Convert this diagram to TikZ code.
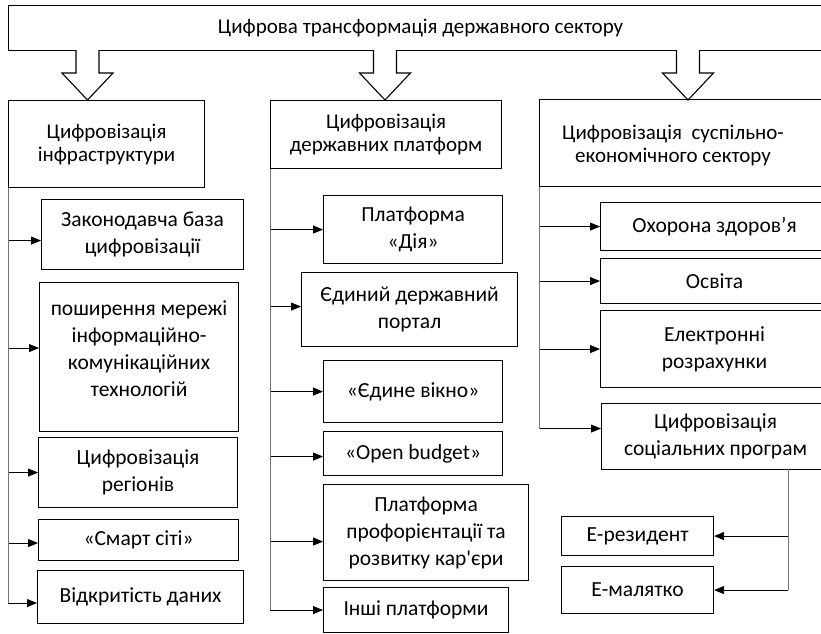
\documentclass[tikz,border=0pt]{standalone}
\usepackage{fontspec}
\setmainfont{Carlito}
\usetikzlibrary{arrows.meta}

\begin{document}
\begin{tikzpicture}[x=1pt,y=-1pt,
    box/.style={draw,line width=1.1pt,anchor=north west,align=center,inner sep=0pt,
      font=\fontsize{21.5}{27}\selectfont},
    head/.style={box,font=\fontsize{21}{23}\selectfont},
    txt/.style={align=center,inner sep=0pt},
    arr/.style={-{Triangle[length=10pt,width=8pt]},line width=0.8pt},
    trunk/.style={draw=black!55,line width=0.9pt},
    bigarr/.style={draw,line width=1.1pt,fill=white,line join=miter}]
  \useasboundingbox (0,0) rectangle (821,633);

  % title and the three directions
  \node[head,minimum width=824,minimum height=45] (title) at (8,5) {Цифрова трансформація державного сектору};
  \node[head,minimum width=196,minimum height=87] (infra) at (8,100) {Цифровізація\\інфраструктури};
  \node[head,minimum width=231,minimum height=68] (platf) at (270,100) {Цифровізація\\державних платформ};
  \node[head,minimum width=290,minimum height=87] (econ) at (539,99) {};
  \node[txt,font=\fontsize{21}{23}\selectfont] (econtxt) at (673,145) {Цифровізація\ \ суспільно-\\економічного сектору};

  \foreach \x in {87.5,385,688}
    \draw[bigarr] (\x-11.5,50) -- ++(0,23) -- ++(-14,0) -- (\x,100) -- (\x+25.5,73) -- ++(-14,0) -- ++(0,-23);

  % infrastructure
  \node[box,minimum width=202,minimum height=70] (legal) at (41,199) {Законодавча база\\цифровізації};
  \node[box,minimum width=199,minimum height=149] (ict) at (39,282) {};
  \node[txt,font=\fontsize{21.5}{27}\selectfont,yshift=8pt] (icttxt) at (ict.center) {поширення мережі\\інформаційно-\\комунікаційних\\технологій};
  \node[box,minimum width=199,minimum height=70] (regions) at (38,437) {Цифровізація\\регіонів};
  \node[box,minimum width=200,minimum height=41] (smart) at (38,519) {«Смарт сіті»};
  \node[box,minimum width=206,minimum height=53] (opendata) at (37,570) {Відкритість даних};

  % platforms
  \node[box,minimum width=179,minimum height=68] (diia) at (323,195) {Платформа\\«Дія»};
  \node[box,minimum width=216,minimum height=74] (portal) at (301,272) {Єдиний державний\\портал};
  \node[box,minimum width=179,minimum height=62] (window) at (323,360) {«Єдине вікно»};
  \node[box,minimum width=179,minimum height=44] (budget) at (323,431) {«Open budget»};
  \node[box,minimum width=205,minimum height=96] (career) at (323,484) {Платформа\\профорієнтації та\\розвитку кар{\addfontfeatures{Ligatures=TeXOff}'}єри};
  \node[box,minimum width=185,minimum height=45] (other) at (323,587) {Інші платформи};

  % socio-economic sector
  \node[box,minimum width=228,minimum height=48] (health) at (600,202) {Охорона здоров’я};
  \node[box,minimum width=228,minimum height=45] (edu) at (600,258) {Освіта};
  \node[box,minimum width=228,minimum height=77] (pay) at (600,310) {Електронні\\розрахунки};
  \node[box,minimum width=228,minimum height=66] (social) at (601,403) {Цифровізація\\соціальних програм};
  \node[box,minimum width=152,minimum height=39] (eres) at (561,516) {Е-резидент};
  \node[box,minimum width=152,minimum height=47] (ebaby) at (561,566) {Е-малятко};

  % connectors
  \foreach \n/\d in {legal/-6,ict/9,regions/0,smart/-3,opendata/-6}{
    \coordinate (\n-in) at ([yshift=\d pt]\n.west);
    \draw[arr] (infra.south west |- \n-in) -- (\n-in);}
  \draw[trunk] (infra.south west) -- (infra.south west |- opendata-in);
  \foreach \n/\d in {diia/0,portal/3,window/0,budget/-3,career/-9,other/0}{
    \coordinate (\n-in) at ([yshift=\d pt]\n.west);
    \draw[arr] (platf.south west |- \n-in) -- (\n-in);}
  \draw[trunk] (platf.south west) -- (platf.south west |- other-in);
  \foreach \n/\d in {health/0,edu/0,pay/0,social/8}{
    \coordinate (\n-in) at ([yshift=\d pt]\n.west);
    \draw[arr] (econ.south west |- \n-in) -- (\n-in);}
  \draw[trunk] (econ.south west) -- (econ.south west |- social-in);
  \coordinate (drop) at (788,469);
  \draw[trunk] (drop) -- (drop |- ebaby.east);
  \foreach \n in {eres,ebaby}
    \draw[arr] (drop |- \n.east) -- (\n.east);
\end{tikzpicture}
\end{document}
